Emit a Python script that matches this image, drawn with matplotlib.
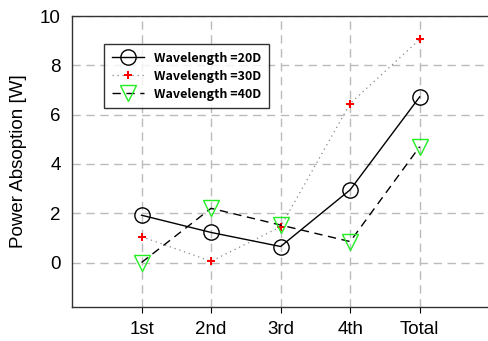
import matplotlib.pyplot as plt
import numpy as np

categories = ["1st", "2nd", "3rd", "4th", "Total"]
wl_20d = [1.92, 1.22, 0.65, 2.95, 6.72]
wl_30d = [1.05, 0.05, 1.45, 6.45, 9.05]
wl_40d = [0.0, 2.2, 1.52, 0.85, 4.7]

plt.rcParams['font.family'] = ['Liberation Sans', 'DejaVu Sans']

fig = plt.figure(figsize=(4.88, 3.41), dpi=100)
ax = fig.add_axes([0.1475, 0.1, 0.855, 0.853])

x = np.arange(1, len(categories) + 1)

ax.plot(x, wl_20d, color='black', linestyle='-', linewidth=1.0,
        marker='o', markersize=11, markerfacecolor='none',
        markeredgecolor='black', markeredgewidth=1.0,
        label='Wavelength =20D', zorder=4)
ax.plot(x, wl_30d, color='#888888', linestyle=(0, (1, 3)), linewidth=0.9,
        marker='P', markersize=6, markerfacecolor='red',
        markeredgecolor='red', markeredgewidth=0,
        label='Wavelength =30D', zorder=3)
ax.plot(x, wl_40d, color='black', linestyle=(0, (6, 4)), linewidth=1.0,
        marker='v', markersize=12, markerfacecolor='none',
        markeredgecolor='#22ee22', markeredgewidth=1.0,
        label='Wavelength =40D', zorder=4)

ax.set_xlim(0, 6)
ax.set_ylim(-1.8, 10)
ax.set_xticks(x)
ax.set_xticklabels(categories, fontsize=13.5)
ax.set_yticks([0, 2, 4, 6, 8, 10])
ax.tick_params(axis='y', length=0, labelsize=13.5, pad=8)
ax.tick_params(axis='x', length=4, direction='out', labelsize=13.5, pad=6)

ax.grid(True, color='#bbbbbb', linestyle=(0, (6, 4)), linewidth=1.0)
ax.set_axisbelow(True)
ax.spines['right'].set_visible(False)
for side in ['left', 'bottom', 'top']:
    ax.spines[side].set_linewidth(1.0)
    ax.spines[side].set_color('#333333')

ax.set_ylabel('Power Absoption [W]', fontsize=13.5, labelpad=9)

leg = ax.legend(loc='upper left', bbox_to_anchor=(0.062, 0.925),
                frameon=True, fancybox=False, edgecolor='black',
                prop={'family': ['Noto Sans CJK KR', 'DejaVu Sans'],
                      'weight': 'bold', 'size': 9},
                handlelength=2.6, borderpad=0.6, labelspacing=0.4)
leg.get_frame().set_linewidth(1.0)

fig.savefig('out.png', dpi=100)
